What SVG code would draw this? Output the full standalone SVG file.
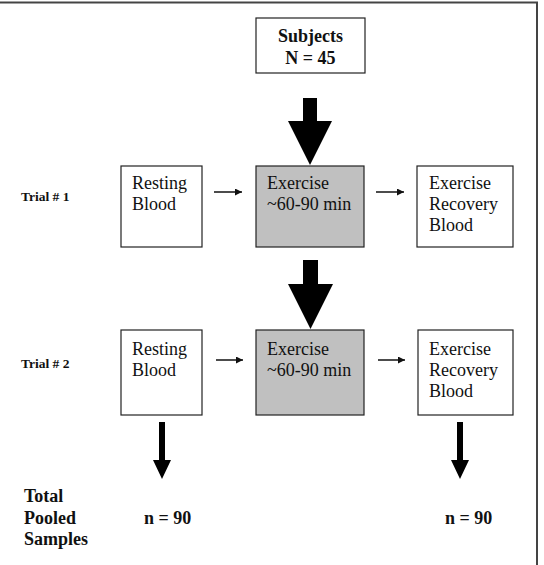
<svg xmlns="http://www.w3.org/2000/svg" width="544" height="565" viewBox="0 0 544 565">
<style>
.box{fill:#fff;stroke:#222;stroke-width:1.2}
.gray{fill:#c0c0c0;stroke:#222;stroke-width:1.2}
.t{font-family:"Liberation Serif","Times New Roman",serif;font-size:18px;fill:#111}
.b{font-family:"Liberation Serif","Times New Roman",serif;font-size:18px;font-weight:bold;fill:#111}
.s{font-family:"Liberation Serif","Times New Roman",serif;font-size:13.5px;font-weight:bold;fill:#111}
.thin{stroke:#111;stroke-width:1.5;fill:none}
</style>
<defs>
<marker id="ah" viewBox="0 0 10 10" refX="10" refY="5" markerWidth="9" markerHeight="7" markerUnits="userSpaceOnUse" orient="auto">
<path d="M0,0 L10,5 L0,10 Z" fill="#111"/>
</marker>
</defs>
<rect width="544" height="565" fill="#fff"/>
<path d="M0,2.5 H537 V565" fill="none" stroke="#444" stroke-width="2"/>

<g id="subjects">
<rect class="box" x="256" y="18" width="109" height="55"/>
<text class="b" x="310.5" y="42" text-anchor="middle">Subjects</text>
<text class="b" x="310.5" y="64" text-anchor="middle">N = 45</text>
</g>

<text class="s" x="21" y="201">Trial # 1</text>
<text class="s" x="21" y="368">Trial # 2</text>

<g id="rest1">
<rect class="box" x="121" y="166" width="81" height="81"/>
<text class="t" x="132" y="189">Resting</text>
<text class="t" x="132" y="210">Blood</text>
</g>
<g id="ex1">
<rect class="gray" x="256" y="166" width="108" height="81"/>
<text class="t" x="267" y="189">Exercise</text>
<text class="t" x="267" y="210">~60-90 min</text>
</g>
<g id="rec1">
<rect class="box" x="417" y="166" width="96" height="81"/>
<text class="t" x="429" y="189">Exercise</text>
<text class="t" x="429" y="210">Recovery</text>
<text class="t" x="429" y="231">Blood</text>
</g>

<g id="rest2">
<rect class="box" x="121" y="330" width="81" height="85"/>
<text class="t" x="132" y="355">Resting</text>
<text class="t" x="132" y="376">Blood</text>
</g>
<g id="ex2">
<rect class="gray" x="256" y="330" width="108" height="85"/>
<text class="t" x="267" y="355">Exercise</text>
<text class="t" x="267" y="376">~60-90 min</text>
</g>
<g id="rec2">
<rect class="box" x="418" y="330" width="95" height="85"/>
<text class="t" x="429" y="355">Exercise</text>
<text class="t" x="429" y="376">Recovery</text>
<text class="t" x="429" y="397">Blood</text>
</g>

<g id="totals">
<text class="b" x="24" y="502">Total</text>
<text class="b" x="24" y="524">Pooled</text>
<text class="b" x="24" y="545">Samples</text>
<text class="b" x="144" y="524">n = 90</text>
<text class="b" x="445" y="524">n = 90</text>
</g>

<g id="connectors">
<path d="M303,98 H317 V121 H332 L310,165 L288,121 H303 Z" fill="#000"/>
<path d="M303,260 H318 V284 H333 L310.5,329 L288,284 H303 Z" fill="#000"/>
<path d="M159,422 H165 V460 H171 L162,479 L153,460 H159 Z" fill="#000"/>
<path d="M457,422 H463 V460 H469 L460,479 L451,460 H457 Z" fill="#000"/>
<line class="thin" x1="214" y1="192" x2="242" y2="192" marker-end="url(#ah)"/>
<line class="thin" x1="376" y1="192" x2="404" y2="192" marker-end="url(#ah)"/>
<line class="thin" x1="216" y1="360" x2="243" y2="360" marker-end="url(#ah)"/>
<line class="thin" x1="378" y1="360" x2="405" y2="360" marker-end="url(#ah)"/>
</g>
</svg>
